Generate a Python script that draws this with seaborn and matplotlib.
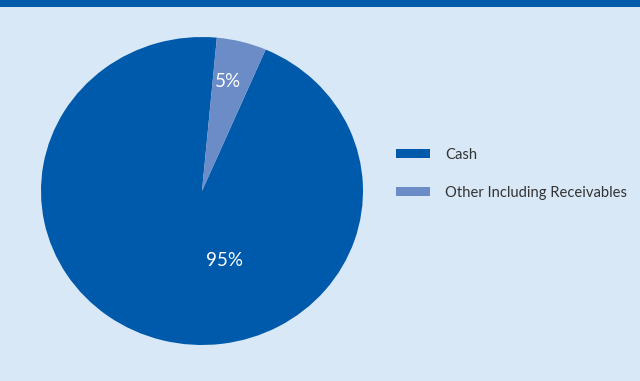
import matplotlib
matplotlib.use("Agg")
import matplotlib.pyplot as plt
from matplotlib.patches import Rectangle
from matplotlib import font_manager
from matplotlib.textpath import TextPath
from matplotlib.font_manager import FontProperties
import seaborn as sns

categories = ["Cash", "Other Including Receivables"]
values = [95, 5]
pct_labels = ["95%", "5%"]

sns.set_style("white")

def pick_font(cands):
    for c in cands:
        try:
            font_manager.findfont(FontProperties(family=c), fallback_to_default=False)
            return c
        except Exception:
            continue
    return "DejaVu Sans"

main = pick_font(["Liberation Sans Narrow", "DejaVu Sans Condensed", "Lato", "Open Sans"])
FONT = [main, "DejaVu Sans"]
plt.rcParams["font.family"] = FONT

# choose legend font size so the long label spans about 180 px
fp = FontProperties(family=main, size=12)
w = TextPath((0, 0), categories[1], prop=fp).get_extents().width  # in points at 12pt
leg_size = min(12.5, 12 * (180 * 0.72) / w)
px = leg_size * 100 / 72

bg = "#d9e8f7"
dark = "#005aab"
light = "#6b8cc7"
colors = sns.color_palette([dark, light])

fig = plt.figure(figsize=(6.4, 3.81), dpi=100, facecolor=bg)
fig.patches.append(Rectangle((0, 1 - 7 / 381), 1, 7 / 381, transform=fig.transFigure,
                             facecolor=dark, edgecolor="none", zorder=5))

ax = fig.add_axes([41 / 640, 36 / 381, 322 / 640, 308 / 381])
ax.set_facecolor(bg)
wedges, texts = ax.pie(values, colors=colors, startangle=84.7, counterclock=True,
                       radius=1, wedgeprops=dict(linewidth=0))
ax.set_aspect("auto")
ax.set_xlim(-1, 1)
ax.set_ylim(-1, 1)
ax.axis("off")

label_pos = [(0.14, -0.45), (0.16, 0.71)]
for lab, (x, y) in zip(pct_labels, label_pos):
    ax.text(x, y, lab, color="white", fontsize=13.5, ha="center", va="center")

leg = fig.legend(wedges, categories, loc="center left",
                 bbox_to_anchor=(396 / 640, 1 - 174 / 381), frameon=False,
                 fontsize=leg_size, handlelength=34 / px,
                 handleheight=8 / px,
                 handletextpad=15 / px, labelspacing=1.3 + 5 / px, borderpad=0,
                 borderaxespad=0)
for t in leg.get_texts():
    t.set_color("#333333")

fig.savefig("out.png", dpi=100, facecolor=bg)
